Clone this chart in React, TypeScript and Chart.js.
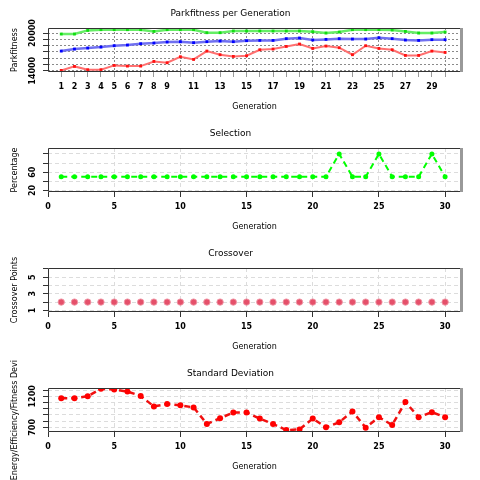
import React, { useEffect, useRef } from 'react';
import { Chart, registerables } from 'chart.js';

Chart.register(...registerables);

const generations = [1, 2, 3, 4, 5, 6, 7, 8, 9, 10, 11, 12, 13, 14, 15, 16, 17, 18, 19, 20, 21, 22, 23, 24, 25, 26, 27, 28, 29, 30];

const bestFitness = [19840, 19840, 20420, 20530, 20530, 20530, 20530, 20260, 20530, 20530, 20530, 20050, 20050, 20320, 20320, 20320, 20320, 20320, 20320, 20210, 20000, 20160, 20530, 20530, 20530, 20480, 20260, 20000, 20000, 20160];
const avgFitness = [17130, 17450, 17610, 17770, 17980, 18090, 18300, 18410, 18570, 18620, 18460, 18620, 18730, 18620, 18780, 18830, 18830, 19100, 19200, 18890, 18990, 19100, 19040, 19040, 19250, 19100, 18890, 18830, 18940, 18940];
const worstFitness = [14050, 14690, 14160, 14160, 14850, 14740, 14740, 15480, 15270, 16230, 15800, 17130, 16550, 16280, 16390, 17340, 17450, 17870, 18250, 17550, 17930, 17660, 16550, 17980, 17550, 17340, 16440, 16440, 17130, 16920];

const selection = [50, 50, 50, 50, 50, 50, 50, 50, 50, 50, 50, 50, 50, 50, 50, 50, 50, 50, 50, 50, 50, 100, 50, 50, 100, 50, 50, 50, 100, 50];
const crossover = [2, 2, 2, 2, 2, 2, 2, 2, 2, 2, 2, 2, 2, 2, 2, 2, 2, 2, 2, 2, 2, 2, 2, 2, 2, 2, 2, 2, 2, 2];
const stdDeviation = [1169, 1169, 1202, 1322, 1311, 1278, 1207, 1038, 1076, 1055, 1022, 755, 847, 940, 940, 842, 755, 656, 667, 842, 700, 782, 956, 695, 864, 738, 1109, 864, 945, 864];

// tick values and labels
const xLabelsFitness = [1, 2, 3, 4, 5, 6, 7, 8, 9, 11, 13, 15, 17, 19, 21, 23, 25, 27, 29];
const xTicksFive = [0, 5, 10, 15, 20, 25, 30];

const yTicksFitness = [14000, 15000, 16000, 17000, 18000, 19000, 20000];
const yLabelsFitness = [14000, 20000];
const yTicksSelection = [20, 40, 60, 80, 100];
const yLabelsSelection = [20, 60];
const yTicksCrossover = [1, 2, 3, 4, 5, 6];
const yLabelsCrossover = [1, 3, 5];
const yTicksStd = [700, 800, 900, 1000, 1100, 1200, 1300];
const yLabelsStd = [700, 1200];

const FAMILY = '"DejaVu Sans", sans-serif';

const pts = (vals: number[]) => generations.map((g, i) => ({ x: g, y: vals[i] }));

const framePlugin = {
  id: 'frameAndLabels',
  afterDraw(chart: any, _args: any, opts: any) {
    const { ctx, chartArea, scales } = chart;
    const y = scales.y;
    ctx.save();
    // rotated y tick labels
    ctx.font = 'bold 8px ' + FAMILY;
    ctx.fillStyle = '#000';
    ctx.textAlign = 'center';
    ctx.textBaseline = 'middle';
    for (const v of opts.values || []) {
      const py = y.getPixelForValue(v);
      ctx.save();
      ctx.translate(chartArea.left - 15, py);
      ctx.rotate(-Math.PI / 2);
      ctx.fillText(String(v), 0, 0);
      ctx.restore();
    }
    // frame
    const l = Math.round(chartArea.left) + 0.5;
    const t = Math.round(chartArea.top) + 0.5;
    const r = Math.round(chartArea.right) - 0.5;
    const b = Math.round(chartArea.bottom) - 0.5;
    ctx.strokeStyle = '#333';
    ctx.lineWidth = 1;
    ctx.beginPath();
    ctx.moveTo(r, t);
    ctx.lineTo(l, t);
    ctx.lineTo(l, b);
    ctx.lineTo(r, b);
    ctx.stroke();
    ctx.fillStyle = '#999';
    ctx.fillRect(Math.round(chartArea.right) - 1, Math.round(chartArea.top), 3, Math.round(chartArea.height));
    ctx.restore();
  },
};

function makeOptions(p: {
  title: string;
  yTitle: string;
  yMin: number;
  yMax: number;
  yTicks: number[];
  yLabels: number[];
  xTicks: number[];
  xLabels: number[];
  dotted: boolean;
}) {
  const gridColor = p.dotted ? '#8a8a8a' : '#dcdcdc';
  const dash = p.dotted ? [2, 2] : [4, 3];
  return {
    responsive: false,
    animation: false,
    devicePixelRatio: 1,
    layout: { padding: { left: 0, right: 19, top: 0, bottom: 0 } },
    plugins: {
      legend: { display: false },
      tooltip: { enabled: false },
      title: {
        display: true,
        text: p.title,
        color: '#000',
        font: { family: FAMILY, size: 9, weight: 'normal' },
        padding: { top: 8.5, bottom: 8.7 },
      },
      frameAndLabels: { values: p.yLabels },
    },
    scales: {
      x: {
        type: 'linear',
        min: 0,
        max: 31.2,
        afterBuildTicks: (s: any) => {
          s.ticks = p.xTicks.map((v) => ({ value: v }));
        },
        afterFit: (s: any) => {
          s.height = 48;
        },
        ticks: {
          autoSkip: false,
          maxRotation: 0,
          minRotation: 0,
          padding: 5,
          color: '#000',
          font: { family: FAMILY, size: 8, weight: 'bold' },
          callback: (v: any) => (p.xLabels.includes(v) ? String(v) : ''),
        },
        grid: {
          color: (c: any) => (c.tick && c.tick.value % 5 === 0 && c.tick.value !== 0 ? gridColor : 'rgba(0,0,0,0)'),
          tickColor: p.dotted ? '#999' : '#333',
          tickLength: 5,
          drawTicks: true,
        },
        border: { display: false, dash },
        title: {
          display: true,
          text: 'Generation',
          color: '#000',
          font: { family: FAMILY, size: 8 },
          padding: { top: 0, bottom: 8 },
        },
      },
      y: {
        type: 'linear',
        min: p.yMin,
        max: p.yMax,
        afterBuildTicks: (s: any) => {
          s.ticks = p.yTicks.map((v) => ({ value: v }));
        },
        afterFit: (s: any) => {
          s.width = 48;
        },
        ticks: { display: false },
        grid: {
          color: gridColor,
          tickColor: '#333',
          tickLength: 5,
          drawTicks: true,
        },
        border: { display: false, dash },
        title: {
          display: true,
          text: p.yTitle,
          color: '#000',
          font: { family: FAMILY, size: 8 },
          padding: { top: 10, bottom: 0 },
        },
      },
    },
  } as any;
}

function useChart(ref: React.RefObject<HTMLCanvasElement | null>, build: () => any) {
  useEffect(() => {
    if (!ref.current) return;
    const chart = new Chart(ref.current, build());
    return () => chart.destroy();
  }, []);
}

export default function App() {
  const c1 = useRef<HTMLCanvasElement>(null);
  const c2 = useRef<HTMLCanvasElement>(null);
  const c3 = useRef<HTMLCanvasElement>(null);
  const c4 = useRef<HTMLCanvasElement>(null);

  useChart(c1, () => ({
    type: 'line',
    data: {
      datasets: [
        {
          data: pts(bestFitness),
          borderColor: '#66ee66',
          backgroundColor: '#11dd11',
          borderWidth: 2.5,
          pointStyle: 'rect',
          pointRadius: 2,
          pointBorderWidth: 0,
        },
        {
          data: pts(avgFitness),
          borderColor: '#7070f0',
          backgroundColor: '#0000ff',
          borderWidth: 2.5,
          pointStyle: 'rect',
          pointRadius: 2,
          pointBorderWidth: 0,
        },
        {
          data: pts(worstFitness),
          borderColor: '#ff7070',
          backgroundColor: '#ff1111',
          borderWidth: 2,
          pointStyle: 'rect',
          pointRadius: 2,
          pointBorderWidth: 0,
        },
      ],
    },
    options: makeOptions({
      title: 'Parkfitness per Generation',
      yTitle: 'Parkfitness',
      yMin: 13800,
      yMax: 20800,
      yTicks: yTicksFitness,
      yLabels: yLabelsFitness,
      xTicks: generations,
      xLabels: xLabelsFitness,
      dotted: true,
    }),
    plugins: [framePlugin],
  }));

  useChart(c2, () => ({
    type: 'line',
    data: {
      datasets: [
        {
          data: pts(selection),
          borderColor: '#00ff00',
          backgroundColor: '#00ff00',
          borderWidth: 2,
          borderDash: [6, 4],
          pointRadius: 2.5,
          pointBorderWidth: 0,
        },
      ],
    },
    options: makeOptions({
      title: 'Selection',
      yTitle: 'Percentage',
      yMin: 16.5,
      yMax: 113,
      yTicks: yTicksSelection,
      yLabels: yLabelsSelection,
      xTicks: xTicksFive,
      xLabels: xTicksFive,
      dotted: false,
    }),
    plugins: [framePlugin],
  }));

  useChart(c3, () => ({
    type: 'line',
    data: {
      datasets: [
        {
          data: pts(crossover),
          showLine: false,
          borderColor: 'rgba(240,150,165,0.9)',
          backgroundColor: '#e5506a',
          pointRadius: 3.2,
          pointBorderWidth: 1,
        },
      ],
    },
    options: makeOptions({
      title: 'Crossover',
      yTitle: 'Crossover Points',
      yMin: 0.8,
      yMax: 6.12,
      yTicks: yTicksCrossover,
      yLabels: yLabelsCrossover,
      xTicks: xTicksFive,
      xLabels: xTicksFive,
      dotted: false,
    }),
    plugins: [framePlugin],
  }));

  useChart(c4, () => ({
    type: 'line',
    data: {
      datasets: [
        {
          data: pts(stdDeviation),
          borderColor: '#f01010',
          backgroundColor: '#ff0000',
          borderWidth: 2.5,
          borderDash: [6, 4],
          pointRadius: 3,
          pointBorderWidth: 0,
        },
      ],
    },
    options: makeOptions({
      title: 'Standard Deviation',
      yTitle: 'Energy/Efficiency/Fitness Deviation',
      yMin: 625,
      yMax: 1335,
      yTicks: yTicksStd,
      yLabels: yLabelsStd,
      xTicks: xTicksFive,
      xLabels: xTicksFive,
      dotted: false,
    }),
    plugins: [framePlugin],
  }));

  const box: React.CSSProperties = { width: 480, height: 120, display: 'block' };
  return (
    <div style={{ position: 'absolute', left: 0, top: 0, width: 480, height: 480, background: '#fff' }}>
      <canvas ref={c1} width={480} height={120} style={box} />
      <canvas ref={c2} width={480} height={120} style={box} />
      <canvas ref={c3} width={480} height={120} style={box} />
      <canvas ref={c4} width={480} height={120} style={box} />
    </div>
  );
}
